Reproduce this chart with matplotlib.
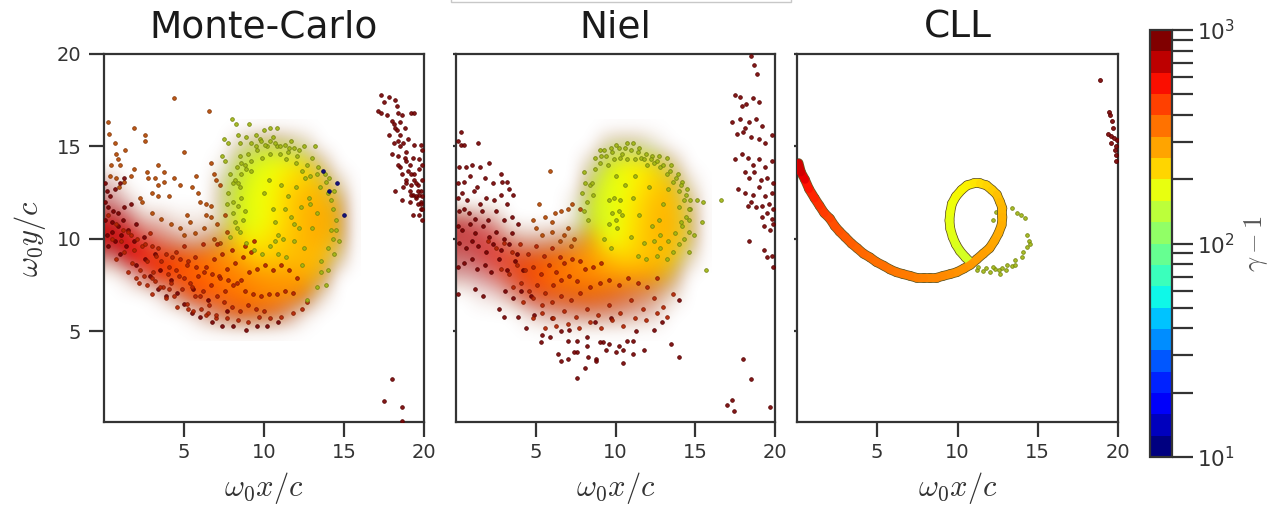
import matplotlib
matplotlib.use("Agg")
import numpy as np
import matplotlib.pyplot as plt
from matplotlib.collections import LineCollection
from matplotlib.colors import LogNorm
from matplotlib.cm import ScalarMappable
from matplotlib.patches import Rectangle

plt.rcParams['font.family'] = ['DejaVu Sans']
plt.rcParams['mathtext.fontset'] = 'cm'

titles = ["Monte-Carlo", "Niel", "CLL"]
xticks = [5, 10, 15, 20]
yticks = [5, 10, 15, 20]
xlabel = r"$\omega_0 x/c$"
ylabel = r"$\omega_0 y/c$"
cbar_label = r"$\gamma-1$"

# gamma-1 level of each group of particles
G_RED, G_DARK, G_OLIVE, G_BROWN, G_BLUE = 520, 850, 175, 400, 12

# Dense body of the clouds, read cell by cell (1 x 1 unit cells; x centres 0.5..15.5, rows y=16 down to y=5)
# *_field_g: typical gamma-1 of the cell, *_field_a: how fully the particles cover it
mc_field_g = [
    [0, 0, 0, 0, 0, 0, 0, 0, 0, 0, 0, 0, 0, 0, 0, 0],
    [0, 0, 0, 0, 0, 0, 0, 0, 170, 170, 170, 170, 180, 0, 0, 0],
    [0, 0, 0, 0, 0, 0, 0, 170, 170, 175, 190, 200, 210, 210, 0, 0],
    [700, 0, 0, 0, 0, 0, 0, 170, 170, 185, 195, 225, 250, 250, 230, 0],
    [700, 650, 0, 0, 0, 0, 0, 170, 175, 190, 200, 240, 270, 275, 260, 0],
    [700, 650, 560, 520, 450, 400, 380, 200, 175, 185, 205, 240, 270, 285, 260, 0],
    [700, 650, 600, 540, 500, 450, 400, 280, 220, 200, 225, 250, 270, 280, 250, 0],
    [700, 650, 580, 500, 450, 410, 370, 330, 290, 250, 245, 255, 265, 260, 230, 0],
    [0, 620, 580, 510, 450, 410, 390, 360, 340, 320, 310, 300, 285, 265, 0, 0],
    [0, 0, 0, 560, 500, 460, 430, 390, 360, 340, 330, 330, 340, 320, 0, 0],
    [0, 0, 0, 0, 0, 520, 500, 460, 430, 420, 420, 430, 420, 0, 0, 0],
    [0, 0, 0, 0, 0, 0, 0, 0, 0, 0, 0, 0, 0, 0, 0, 0],
]
mc_field_a = [
    [0, 0, 0, 0, 0, 0, 0, 0, 0, 0, 0, 0, 0, 0, 0, 0],
    [0, 0, 0, 0, 0, 0, 0, 0, .3, .6, .7, .55, .3, 0, 0, 0],
    [0, 0, 0, 0, 0, 0, 0, .1, .7, .95, 1, 1, .9, .45, 0, 0],
    [.25, 0, 0, 0, 0, 0, 0, .4, .85, 1, 1, 1, 1, .9, .3, 0],
    [.4, .2, 0, 0, 0, 0, 0, .45, .9, 1, 1, 1, 1, 1, .75, 0],
    [.75, .55, .25, .25, .1, .1, .1, .35, .9, 1, 1, 1, 1, 1, .85, 0],
    [.85, .85, .65, .5, .4, .3, .45, .7, .95, 1, 1, 1, 1, 1, .8, 0],
    [.4, .8, .9, .85, .9, .95, 1, 1, 1, 1, 1, 1, 1, 1, .45, 0],
    [0, .15, .5, .9, 1, 1, 1, 1, 1, 1, 1, 1, 1, .8, 0, 0],
    [0, 0, 0, .1, .5, .9, 1, 1, 1, 1, 1, 1, .85, .2, 0, 0],
    [0, 0, 0, 0, 0, .1, .4, .65, .85, .8, .75, .5, .1, 0, 0, 0],
    [0, 0, 0, 0, 0, 0, 0, 0, 0, 0, 0, 0, 0, 0, 0, 0],
]
ni_field_g = [
    [0, 0, 0, 0, 0, 0, 0, 0, 0, 0, 0, 0, 0, 0, 0, 0],
    [0, 0, 0, 0, 0, 0, 0, 0, 0, 170, 170, 170, 170, 0, 0, 0],
    [0, 0, 0, 0, 0, 0, 0, 0, 170, 180, 195, 205, 210, 200, 0, 0],
    [0, 0, 0, 0, 0, 0, 0, 0, 170, 180, 190, 210, 240, 240, 220, 0],
    [0, 0, 0, 0, 0, 0, 0, 170, 175, 180, 195, 225, 260, 260, 220, 0],
    [700, 650, 600, 0, 0, 0, 0, 170, 175, 170, 200, 235, 265, 270, 220, 0],
    [700, 650, 620, 540, 500, 440, 410, 350, 270, 190, 205, 240, 265, 265, 220, 0],
    [700, 650, 600, 520, 460, 420, 380, 340, 300, 260, 235, 250, 260, 240, 220, 0],
    [700, 650, 600, 520, 460, 410, 370, 350, 340, 320, 310, 300, 285, 265, 0, 0],
    [0, 650, 600, 570, 520, 460, 420, 400, 380, 400, 420, 420, 400, 380, 0, 0],
    [0, 0, 0, 0, 600, 550, 540, 520, 500, 500, 500, 500, 500, 0, 0, 0],
    [0, 0, 0, 0, 0, 0, 0, 0, 0, 0, 0, 0, 0, 0, 0, 0],
]
ni_field_a = [
    [0, 0, 0, 0, 0, 0, 0, 0, 0, 0, 0, 0, 0, 0, 0, 0],
    [0, 0, 0, 0, 0, 0, 0, 0, 0, .35, .45, .4, .15, 0, 0, 0],
    [0, 0, 0, 0, 0, 0, 0, 0, .3, .8, 1, 1, .85, .4, 0, 0],
    [0, 0, 0, 0, 0, 0, 0, 0, .65, 1, 1, 1, 1, .85, .2, 0],
    [0, 0, 0, 0, 0, 0, 0, .15, .8, 1, 1, 1, 1, 1, .55, 0],
    [.6, .45, .3, 0, 0, 0, 0, .15, .8, 1, 1, 1, 1, 1, .65, 0],
    [.65, .65, .6, .4, .3, .35, .45, .55, .85, 1, 1, 1, 1, 1, .65, 0],
    [.5, .6, .7, .75, .8, .85, .9, 1, 1, 1, 1, 1, 1, .9, .3, 0],
    [.3, .35, .5, .7, .9, 1, 1, 1, 1, 1, 1, 1, .9, .6, 0, 0],
    [0, .1, .15, .4, .65, .8, .8, .85, .85, .8, .7, .6, .45, .2, 0, 0],
    [0, 0, 0, 0, .15, .3, .4, .45, .5, .45, .4, .3, .2, 0, 0, 0],
    [0, 0, 0, 0, 0, 0, 0, 0, 0, 0, 0, 0, 0, 0, 0, 0],
]

# ---------- Monte-Carlo: individual particles ----------
mc_dark_x = [0.1, 0.2, 0.1, 0.4, 0.7, 1.0, 1.3, 0.3, 0.6, 0.1, 0.5, 0.9, 1.3, 1.7, 0.2, 0.5, 0.9, 1.2, 0.3, 0.7, 1.1, 1.5, 2.0, 1.0, 1.4, 1.9, 2.5, 2.0, 2.6, 3.2, 2.9, 3.5, 4.2, 4.6, 3.4, 3.9, 5.0, 5.5, 6.0, 6.8, 7.4, 8.1, 8.9, 9.6, 10.2, 10.9, 7.7, 6.5, 5.6,
             17.3, 17.5, 17.8, 18.2, 18.4, 17.1, 17.3, 17.7, 18.3, 18.6, 19.2, 19.4, 18.0, 18.2, 18.5, 18.8, 17.8, 18.1, 18.5, 19.0, 19.4, 19.8, 19.9, 18.4, 18.9, 19.3, 19.7, 19.9, 18.0, 18.5, 19.0, 19.4, 19.7, 19.9, 18.2, 18.7, 19.2, 19.6, 19.8, 18.6, 19.1, 19.5, 19.9, 19.3, 19.8, 19.9, 18.0, 17.5, 18.65, 18.65,
             18.1, 18.3, 18.4, 18.5, 18.7, 18.8, 18.9, 19.1, 19.2, 19.4, 19.5, 19.6, 19.7, 19.8, 19.9, 18.9, 19.1, 19.3, 19.6, 19.8, 18.4, 18.6, 18.9, 19.2, 19.5, 19.7]
mc_dark_y = [13.0, 12.6, 12.0, 12.3, 12.7, 13.0, 13.3, 11.7, 11.5, 11.0, 10.9, 11.4, 11.7, 11.9, 10.2, 10.4, 10.7, 11.0, 9.6, 9.9, 10.2, 10.5, 10.8, 9.2, 9.6, 9.9, 10.1, 8.6, 8.9, 9.2, 8.0, 8.3, 7.8, 7.1, 7.3, 6.9, 6.5, 6.0, 5.8, 5.5, 5.3, 5.3, 5.1, 5.3, 5.3, 5.5, 6.1, 6.7, 7.3,
             17.8, 17.4, 17.7, 17.5, 16.8, 16.9, 16.8, 16.7, 17.2, 16.7, 16.8, 16.8, 16.4, 16.0, 16.3, 16.0, 15.6, 15.2, 15.6, 15.4, 15.1, 15.1, 14.8, 14.5, 14.7, 14.4, 14.3, 14.0, 14.6, 13.9, 13.7, 13.5, 13.8, 13.2, 12.6, 12.8, 12.9, 12.9, 12.6, 12.1, 12.0, 12.2, 12.3, 11.3, 11.6, 11.0, 2.45, 1.25, 0.92, 0.15,
             16.2, 15.9, 15.3, 15.0, 15.2, 14.4, 14.2, 14.0, 13.5, 13.2, 13.0, 12.6, 12.4, 12.0, 11.6, 13.2, 12.6, 12.4, 11.9, 11.9, 14.0, 13.5, 13.0, 12.4, 12.3, 11.3]
mc_red_x = [0.5, 1.1, 1.5, 1.9, 2.4, 2.9, 3.3, 0.8, 1.3, 1.8, 2.3, 2.7, 3.1, 3.6, 4.1, 4.5, 5.0, 2.2, 2.7, 3.2, 3.7, 4.2, 4.7, 5.2, 5.7, 3.9, 4.4, 4.9, 5.4, 5.9, 6.4, 6.9, 7.4, 4.6, 5.2, 5.7, 6.2, 6.7, 7.2, 7.7, 8.2, 8.7, 9.2, 5.6, 6.1, 6.6, 7.1, 7.6, 8.1, 8.6, 9.1, 9.6, 10.1, 10.6, 11.1, 11.6, 12.1, 6.4, 7.0, 7.7, 8.4, 9.0, 9.7, 10.4, 11.1, 11.8, 12.4, 5.3, 4.1, 3.0, 6.2, 7.1, 8.0, 8.8, 9.4, 12.7,
            0.3, 0.8, 1.2, 1.7, 2.1, 2.6, 3.0, 3.4, 3.9, 4.3, 4.8, 5.3, 5.8, 6.3, 6.8, 7.3, 7.8, 8.3, 8.8, 9.3, 9.8, 10.3, 10.8, 11.3, 11.8, 1.5, 2.0, 2.5, 3.0, 3.5, 4.0, 4.5, 5.0, 5.5, 6.0, 6.5, 7.0, 7.5, 8.0, 8.5, 9.0, 9.5, 10.0]
mc_red_y = [10.0, 9.9, 10.4, 9.4, 9.6, 10.3, 9.1, 8.9, 9.3, 8.7, 8.3, 8.8, 8.2, 8.8, 8.5, 9.3, 9.6, 7.6, 7.5, 7.7, 7.4, 7.6, 8.0, 8.6, 9.0, 6.8, 6.9, 7.3, 7.6, 8.0, 8.5, 8.9, 9.2, 6.3, 6.5, 6.9, 7.2, 7.5, 8.0, 8.4, 8.7, 9.0, 9.3, 6.1, 6.2, 6.4, 6.9, 7.2, 7.5, 7.8, 8.2, 8.4, 8.6, 8.3, 8.6, 8.3, 7.9, 5.9, 5.7, 5.7, 5.6, 5.5, 5.8, 5.7, 5.8, 6.0, 6.2, 6.2, 7.3, 7.9, 9.7, 9.7, 9.4, 9.6, 9.9, 6.6,
            11.3, 10.8, 10.5, 10.2, 10.0, 9.7, 9.6, 9.5, 9.2, 9.0, 8.9, 8.8, 8.5, 8.2, 8.1, 7.9, 7.8, 7.6, 7.2, 7.0, 6.9, 7.0, 7.0, 7.2, 7.1, 8.2, 7.9, 8.0, 7.0, 7.4, 8.1, 8.3, 7.9, 7.4, 6.9, 6.0, 5.9, 6.6, 6.3, 6.1, 6.4, 6.2, 6.1]
mc_olive_x = [8.0, 8.25, 9.05, 7.5, 7.8, 8.4, 8.5, 8.9, 10.0, 10.4, 10.8, 9.5, 9.75, 10.6, 11.7, 12.5, 13.2, 7.4, 7.6, 8.5, 9.0, 9.6, 10.2, 10.8, 11.5, 12.1, 12.7, 13.3, 13.9, 7.9, 8.1, 7.8, 7.7, 8.1, 8.3, 7.9, 14.2, 14.5, 14.7, 14.4, 14.0, 13.3, 12.7,
              8.8, 9.2, 9.9, 10.4, 11.0, 11.4, 12.0, 12.4, 12.9, 13.5, 14.0, 14.3, 14.2, 8.6, 8.4, 8.6, 8.8, 8.7, 8.5, 8.9, 9.4, 10.0, 10.3, 10.6, 11.1, 10.9, 11.5, 11.9, 12.3, 12.8, 12.2, 11.7, 11.2, 10.7, 10.4, 10.9, 11.4, 11.9, 12.5, 13.0, 13.3, 12.9, 12.4, 13.6, 13.9, 9.9, 10.7, 11.3, 12.0, 12.6,
              9.2, 9.5, 9.8, 10.1, 10.4, 10.7, 11.0, 11.3, 11.6, 11.9, 12.2, 8.3, 8.6, 8.9, 9.2, 8.2, 8.5, 8.1, 8.4, 8.2, 13.0, 13.4, 13.8, 14.1, 14.4, 14.5, 14.3, 14.0, 13.6]
mc_olive_y = [16.5, 16.2, 16.2, 15.4, 15.2, 15.6, 15.2, 15.5, 15.9, 16.0, 16.0, 15.6, 15.4, 15.5, 15.3, 15.0, 15.0, 14.5, 14.2, 14.5, 14.6, 14.8, 15.0, 15.0, 14.7, 14.5, 14.0, 13.5, 13.1, 13.5, 13.0, 12.5, 11.9, 11.4, 10.6, 10.1, 12.1, 11.0, 9.9, 9.2, 8.3, 7.4, 6.7,
              14.0, 14.2, 14.4, 14.6, 14.6, 14.3, 14.1, 13.7, 13.4, 12.8, 12.5, 11.6, 10.5, 13.5, 13.0, 12.2, 11.5, 11.0, 10.4, 9.8, 9.4, 12.5, 13.2, 11.6, 12.9, 10.2, 12.3, 10.8, 11.7, 12.2, 10.6, 11.2, 10.0, 10.9, 9.6, 9.2, 9.0, 9.9, 9.5, 10.6, 11.4, 11.9, 8.6, 8.2, 7.5, 9.2, 9.9, 11.6, 12.8, 13.3,
              15.2, 15.0, 15.3, 15.1, 15.3, 15.2, 15.0, 15.1, 14.9, 14.9, 14.8, 13.9, 14.1, 13.8, 13.7, 13.2, 12.8, 12.0, 11.8, 10.9, 14.4, 13.9, 13.5, 13.3, 12.6, 10.5, 10.0, 9.5, 8.8]
mc_brown_x = [4.4, 6.6, 1.9, 2.6, 2.6, 0.25, 0.35, 0.7, 1.35, 0.8, 0.9, 5.0, 0.45, 1.0, 1.9, 3.4, 2.7, 2.8, 3.2, 3.75, 4.4, 3.4, 3.75, 4.8, 5.8, 5.5, 5.9, 6.7, 6.9, 7.0, 7.3, 3.0, 3.4, 4.1, 6.0, 6.4, 6.7, 5.2, 6.4, 6.7, 2.3, 2.4, 1.7, 1.25, 0.95, 0.8, 0.4,
              3.0, 3.6, 4.2, 4.8, 5.4, 5.0, 5.7, 6.3, 7.1, 7.6, 6.9, 7.3, 7.7]
mc_brown_y = [17.6, 16.9, 16.0, 15.6, 15.3, 16.3, 15.7, 15.2, 14.8, 14.6, 14.3, 14.7, 14.0, 14.0, 13.8, 14.0, 13.6, 13.3, 13.3, 13.6, 13.3, 12.9, 13.1, 12.9, 13.4, 12.8, 12.5, 14.1, 13.5, 13.2, 12.9, 12.5, 12.3, 12.3, 12.0, 11.9, 11.8, 11.3, 11.3, 11.2, 12.2, 12.0, 13.4, 13.1, 12.8, 13.3, 13.4,
              11.4, 11.1, 10.8, 10.6, 10.9, 10.2, 10.3, 10.6, 10.8, 11.3, 10.0, 9.8, 10.4]
mc_blue_x = [13.7, 14.6, 15.0, 14.1]
mc_blue_y = [13.7, 13.0, 11.3, 12.6]

# ---------- Niel: individual particles ----------
ni_dark_x = [0.3, 0.1, 0.3, 0.5, 1.4, 0.2, 0.6, 1.0, 1.5, 2.1, 2.8, 3.2, 0.1, 0.5, 0.9, 1.3, 1.8, 2.3, 2.9, 3.3, 0.1, 0.4, 0.7, 1.1, 1.5, 1.9, 2.4, 2.8, 3.2, 3.6, 0.2, 0.5, 0.8, 1.2, 1.6, 2.0, 2.5, 3.0, 3.5, 3.9, 0.1, 0.4, 0.9, 1.2, 1.7, 2.1, 2.5, 3.0, 3.5, 0.2, 0.6, 1.0, 1.4, 1.9, 2.3, 2.8, 3.3, 3.8, 0.1, 0.5, 1.0, 1.3, 1.8, 2.2, 2.7, 3.2, 3.7, 4.2, 0.1, 1.2, 1.7, 2.7, 3.1, 3.6, 4.1, 4.7, 3.0, 3.9, 4.4, 4.9, 5.4, 6.0, 6.6, 7.1, 7.6, 8.2, 8.7, 9.2, 9.7, 10.2, 10.7, 11.3, 11.8, 12.4, 12.9, 13.5, 14.0, 5.3, 5.9, 6.4, 7.0, 7.6, 8.2, 8.8, 9.4, 10.0, 10.5, 11.1, 7.0, 7.4, 7.6, 8.1, 8.8, 9.0, 9.6, 10.5, 11.1, 6.6, 8.3, 14.0,
             17.5, 17.8, 17.9, 18.2, 18.6, 19.0, 17.3, 17.8, 18.1, 18.4, 18.8, 19.2, 17.6, 18.0, 18.5, 19.0, 19.4, 19.8, 17.5, 17.9, 18.3, 18.6, 19.0, 19.4, 19.8, 18.1, 18.4, 18.7, 19.1, 19.5, 19.9, 17.7, 18.1, 18.6, 19.0, 19.4, 19.8, 18.3, 18.5, 18.8, 19.2, 19.6, 19.9, 19.2, 19.5, 19.8, 19.3, 19.7, 19.9, 18.4, 19.3, 19.5, 19.8, 19.9, 18.5, 18.7, 18.9, 18.0, 17.4, 17.0, 18.5, 17.3, 19.7]
ni_dark_y = [15.8, 15.3, 15.1, 15.1, 15.2, 13.9, 13.9, 14.0, 13.9, 14.1, 13.5, 13.1, 13.0, 13.1, 13.4, 12.8, 13.3, 13.0, 13.1, 12.7, 12.2, 12.5, 12.1, 12.6, 11.9, 12.2, 12.1, 12.4, 11.9, 12.4, 11.5, 11.6, 11.4, 11.1, 11.5, 11.0, 11.5, 11.0, 11.2, 10.8, 10.7, 10.5, 10.8, 10.3, 10.7, 10.1, 10.4, 10.0, 10.3, 9.8, 9.5, 9.9, 9.6, 9.3, 9.7, 9.4, 9.7, 9.2, 8.5, 8.7, 8.9, 8.4, 8.6, 8.2, 8.9, 8.3, 8.8, 8.3, 7.0, 7.3, 6.9, 6.2, 7.2, 6.8, 7.2, 6.9, 5.8, 5.8, 5.2, 5.9, 4.8, 5.7, 5.0, 5.1, 4.5, 4.7, 5.5, 4.4, 5.7, 4.2, 4.5, 5.0, 4.0, 5.1, 5.5, 4.3, 6.7, 4.4, 4.7, 3.8, 4.5, 3.9, 4.2, 3.5, 4.0, 3.9, 3.3, 4.5, 3.5, 3.9, 2.5, 3.0, 3.4, 4.4, 4.3, 4.0, 3.8, 3.4, 3.6, 3.6,
             17.8, 17.7, 17.2, 17.3, 17.6, 17.4, 16.3, 16.5, 16.0, 16.3, 16.5, 16.1, 15.7, 15.8, 15.5, 15.4, 15.2, 15.6, 14.3, 14.6, 14.4, 14.0, 14.3, 13.9, 14.2, 13.6, 13.3, 13.6, 13.2, 13.3, 13.0, 12.7, 12.5, 12.4, 12.8, 12.3, 12.5, 11.8, 12.0, 11.7, 11.8, 11.9, 11.6, 11.2, 11.4, 11.1, 10.7, 10.5, 10.8, 9.9, 9.4, 9.0, 9.1, 8.5, 19.9, 19.4, 18.9, 3.5, 0.7, 1.0, 2.4, 1.3, 0.9]
ni_red_x = [2.0, 2.5, 3.0, 3.5, 4.0, 4.5, 5.0, 5.5, 6.0, 6.5, 2.8, 3.3, 3.8, 4.3, 4.8, 5.3, 5.8, 6.3, 6.8, 7.3, 7.8, 3.6, 4.1, 4.6, 5.1, 5.6, 6.1, 6.6, 7.1, 7.6, 8.1, 8.6, 9.1, 4.2, 4.8, 5.4, 6.0, 6.6, 7.2, 7.8, 8.4, 9.0, 9.6, 10.2, 10.8, 11.4, 12.0, 12.6, 4.8, 5.4, 6.1, 6.8, 7.5, 8.2, 8.9, 9.6, 10.3, 11.0, 11.7, 12.4, 13.0, 13.6, 5.6, 6.3, 7.0, 7.7, 8.4, 9.1, 9.8, 10.5, 11.2, 11.9, 12.6, 13.2]
ni_red_y = [9.9, 9.5, 9.8, 9.3, 9.7, 9.2, 9.6, 9.1, 9.5, 9.0, 8.4, 8.1, 8.6, 8.3, 8.5, 8.1, 8.6, 8.2, 8.7, 8.9, 8.8, 7.4, 7.6, 7.2, 7.5, 7.1, 7.5, 7.8, 8.0, 7.7, 8.4, 8.5, 8.7, 6.6, 6.8, 6.4, 6.6, 6.9, 6.7, 7.1, 7.4, 7.6, 7.8, 7.5, 7.9, 7.6, 7.4, 7.9, 5.7, 6.0, 5.7, 6.1, 5.8, 6.2, 5.9, 6.4, 6.0, 6.7, 6.2, 6.8, 6.3, 7.0, 5.2, 5.3, 5.4, 5.2, 5.5, 5.2, 5.6, 5.3, 5.7, 5.6, 6.0, 5.8]
ni_olive_x = [9.0, 9.3, 9.7, 10.0, 10.4, 10.7, 11.1, 11.5, 11.9, 12.3, 12.7, 13.2, 13.5, 13.9, 14.2, 14.5, 14.7, 15.1, 15.5, 16.6, 8.0, 8.1, 7.9, 8.2, 8.4, 8.0, 8.3, 8.7, 8.5, 8.6, 9.0, 9.5, 9.9, 10.3, 10.7, 11.2, 11.6, 12.0, 12.4, 12.8, 13.2, 13.6, 14.0, 14.3, 14.7, 14.6, 14.2, 14.6, 14.9, 14.3, 14.0, 13.6, 13.2, 12.8, 15.7, 15.4, 14.0, 14.6, 9.6, 10.2, 10.0, 10.4, 9.8, 9.6, 10.1, 9.9, 10.3, 10.0, 10.6, 11.1, 11.5, 11.0, 11.8, 12.3, 12.1, 12.7, 12.4, 11.4, 11.9, 12.6, 13.0, 13.3, 12.8, 11.2, 9.7, 9.3,
              8.7, 9.1, 9.4, 9.8, 10.2, 10.6, 11.0, 11.4, 11.8, 12.2, 12.6, 13.0, 13.4, 13.8, 14.1, 14.4, 14.6, 14.4, 14.1, 13.7, 13.3]
ni_olive_y = [14.8, 14.8, 14.9, 15.1, 14.6, 15.2, 15.2, 14.9, 14.6, 14.5, 14.5, 14.4, 14.0, 13.5, 13.1, 12.7, 12.1, 12.1, 12.0, 12.1, 13.6, 13.0, 12.5, 12.0, 12.9, 11.5, 11.0, 13.8, 13.0, 12.4, 14.1, 14.0, 14.3, 14.4, 14.3, 14.3, 14.4, 14.0, 14.1, 13.9, 13.5, 13.1, 12.6, 12.1, 11.6, 11.0, 10.7, 10.4, 10.2, 10.0, 9.7, 9.3, 8.9, 9.5, 8.3, 10.9, 11.7, 9.3, 12.1, 11.5, 11.0, 11.3, 11.4, 10.8, 10.6, 12.2, 12.1, 13.4, 12.9, 12.2, 11.3, 10.1, 9.8, 10.7, 12.8, 11.0, 9.9, 9.1, 8.9, 9.1, 11.9, 12.7, 10.2, 13.4, 9.5, 10.0,
              14.4, 14.5, 14.5, 14.7, 14.9, 14.9, 14.8, 14.7, 14.3, 14.3, 14.2, 14.0, 13.7, 13.3, 12.9, 12.4, 11.6, 11.2, 10.9, 10.3, 9.9]
ni_brown_x = [5.9, 7.3, 6.2, 6.6, 7.0, 5.2, 5.6, 4.8, 6.0, 7.8, 7.0, 6.0, 5.4, 7.4, 6.5, 5.0, 7.2, 6.8]
ni_brown_y = [13.7, 11.9, 11.4, 11.5, 11.6, 11.9, 11.2, 11.0, 10.9, 11.6, 10.6, 10.4, 10.2, 10.0, 9.9, 10.6, 9.6, 10.2]

# ---------- CLL ----------
cl_curve_x = [10.8, 10.5, 10.15, 9.9, 9.7, 9.55, 9.5, 9.55, 9.65, 9.9, 10.25, 10.6, 11.0, 11.4, 11.8, 12.15, 12.45, 12.65, 12.8, 12.8, 12.75, 12.55, 12.3, 12.0, 11.6, 11.2, 10.8, 10.4, 9.95, 9.55, 9.1, 8.7, 8.3, 7.9, 7.45, 7.05, 6.6, 6.2, 5.8, 5.4, 4.95, 4.55, 4.15, 3.75, 3.4, 3.0, 2.65, 2.35, 2.05, 1.7, 1.4, 1.1, 0.75, 0.5, 0.25, 0.1]
cl_curve_y = [8.75, 9.0, 9.35, 9.7, 10.1, 10.55, 11.0, 11.45, 11.9, 12.3, 12.65, 12.9, 13.0, 13.0, 12.9, 12.65, 12.4, 12.0, 11.65, 11.2, 10.75, 10.3, 9.9, 9.5, 9.2, 8.9, 8.6, 8.4, 8.2, 8.1, 8.0, 7.9, 7.9, 7.9, 7.9, 8.0, 8.1, 8.2, 8.35, 8.55, 8.75, 9.0, 9.2, 9.5, 9.75, 10.1, 10.4, 10.7, 11.1, 11.4, 11.8, 12.2, 12.7, 13.2, 13.6, 14.1]
cl_curve_g = [160, 165, 165, 170, 175, 178, 180, 185, 190, 195, 200, 205, 215, 225, 235, 245, 255, 265, 270, 275, 280, 285, 290, 295, 300, 310, 315, 320, 325, 330, 335, 340, 345, 350, 355, 360, 365, 370, 375, 380, 385, 390, 395, 405, 415, 425, 440, 450, 470, 490, 520, 550, 600, 650, 720, 780]
cl_tail_x = [11.2, 11.6, 12.05, 12.35, 12.65, 12.8, 13.1, 13.4, 13.6, 14.0, 14.1, 14.35, 14.45, 14.3, 14.5, 11.8, 12.2, 12.6, 13.0, 13.6, 13.4, 13.7, 14.2, 13.95, 12.2, 12.4, 10.9, 11.3]
cl_tail_y = [8.3, 8.25, 8.2, 8.4, 8.1, 8.45, 8.6, 8.55, 8.85, 9.0, 9.3, 9.55, 9.9, 10.2, 9.75, 8.45, 8.5, 8.3, 8.3, 8.6, 11.65, 11.4, 11.15, 11.3, 11.05, 11.45, 8.6, 8.5]
cl_top_x = [18.9, 19.45, 19.6, 19.7, 19.35, 19.55, 19.75, 19.85, 19.9, 19.9, 19.55, 19.95, 19.5, 19.8]
cl_top_y = [18.6, 16.85, 16.4, 16.0, 15.65, 15.55, 15.45, 15.0, 14.55, 14.2, 15.2, 15.35, 16.7, 14.8]

GAMMA_MIN, GAMMA_MAX = 10, 1000
norm = LogNorm(GAMMA_MIN, GAMMA_MAX)
bar_cmap = plt.get_cmap('jet', 20)
cmap = plt.get_cmap('jet')
INK = '#333333'

fig = plt.figure(figsize=(12.68, 5.05), dpi=100)
W, H = 1268.0, 505.0


def axes_px(l, r, t, b):
    return fig.add_axes([l / W, 1 - b / H, (r - l) / W, (b - t) / H])


ax1 = axes_px(103.5, 424, 54, 422)
ax2 = axes_px(456, 775, 54, 422)
ax3 = axes_px(797, 1118, 54, 422)
axes = [ax1, ax2, ax3]


def field(ax, g, a):
    g = np.array(g, float)
    a = np.array(a, float)
    rgba = cmap(norm(np.where(g > 0, g, 400)))
    # thinly covered cells show mostly the particles' dark rims, so they are shaded darker
    rgba[..., :3] *= (0.55 + 0.45 * a)[..., None]
    rgba[..., 3] = np.minimum(1, a * 1.15)
    ax.imshow(rgba, extent=(0, 16, 4.5, 16.5), origin='upper', aspect='auto',
              interpolation='bicubic', interpolation_stage='rgba', zorder=2)


def dots(ax, x, y, g, s=7, z=3):
    base = np.array(cmap(norm(g)))
    face = base.copy()
    face[:3] *= 0.72
    edge = base.copy()
    edge[:3] *= 0.5
    ax.scatter(x, y, s=s, color=[tuple(face)], edgecolors=[tuple(edge)], linewidths=0.6, alpha=0.9, zorder=z)


# Monte-Carlo
field(ax1, mc_field_g, mc_field_a)
dots(ax1, mc_brown_x, mc_brown_y, G_BROWN)
dots(ax1, mc_dark_x, mc_dark_y, G_DARK)
dots(ax1, mc_red_x, mc_red_y, G_RED)
dots(ax1, mc_olive_x, mc_olive_y, G_OLIVE)
dots(ax1, mc_blue_x, mc_blue_y, G_BLUE)

# Niel
field(ax2, ni_field_g, ni_field_a)
dots(ax2, ni_brown_x, ni_brown_y, G_BROWN)
dots(ax2, ni_dark_x, ni_dark_y, G_DARK)
dots(ax2, ni_red_x, ni_red_y, G_RED)
dots(ax2, ni_olive_x, ni_olive_y, G_OLIVE)

# CLL
pts = np.column_stack([cl_curve_x, cl_curve_y])
segs = np.stack([pts[:-1], pts[1:]], axis=1)
ax3.add_collection(LineCollection(segs, colors='#6a5a25', linewidths=7.0, capstyle='round', zorder=2))
ax3.add_collection(LineCollection(segs, array=np.array(cl_curve_g[:-1], float), cmap=cmap, norm=norm,
                                  linewidths=5.8, capstyle='round', zorder=3))
dots(ax3, cl_tail_x, cl_tail_y, G_OLIVE, s=7, z=1.5)
dots(ax3, cl_top_x, cl_top_y, G_DARK, s=8)

for i, ax in enumerate(axes):
    ax.set_xlim(0, 20)
    ax.set_ylim(0.1, 20)
    ax.set_xticks(xticks)
    ax.set_yticks(yticks)
    ax.set_title(titles[i], fontsize=27, color='#1a1a1a', pad=12)
    ax.set_xlabel(xlabel, fontsize=22, color=INK, labelpad=6)
    ax.tick_params(axis='x', length=11, width=1.6, color=INK, labelcolor=INK, labelsize=14, pad=4)
    for s in ax.spines.values():
        s.set_linewidth(1.6)
        s.set_color(INK)
    if i == 0:
        ax.set_ylabel(ylabel, fontsize=22, color=INK, labelpad=6)
        ax.tick_params(axis='y', length=11, width=1.6, color=INK, labelcolor=INK, labelsize=14, pad=5)
    else:
        ax.tick_params(axis='y', length=2, width=1.6, color=INK, labelleft=False)

cax = axes_px(1150, 1172, 30, 457)
cb = fig.colorbar(ScalarMappable(norm=norm, cmap=bar_cmap), cax=cax)
cb.ax.tick_params(which='both', length=15, width=1.6, color=INK, labelcolor=INK, labelsize=15.5, pad=3)
cb.outline.set_linewidth(1.6)
cb.outline.set_edgecolor(INK)
fig.text(1256 / W, 1 - 244 / H, cbar_label, rotation=90, fontsize=19, color='#555555', ha='center', va='center')

# white strip with a pale border at the top edge of the picture
fig.add_artist(Rectangle((451 / W, 1 - 2 / H), 340 / W, 4 / H, transform=fig.transFigure,
                         facecolor='white', edgecolor='#c8c8c8', linewidth=1))

fig.savefig('out.png', dpi=100)
